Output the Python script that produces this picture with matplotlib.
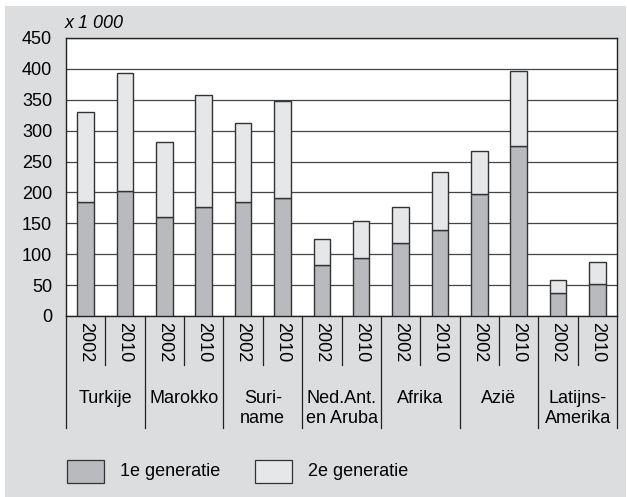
import matplotlib.pyplot as plt
import matplotlib.transforms as mtransforms
from matplotlib.lines import Line2D
from matplotlib.patches import Rectangle

plt.rcParams['font.family'] = ['Liberation Sans', 'DejaVu Sans']

# data (x 1 000)
groups = ['Turkije', 'Marokko', 'Suri-\nname', 'Ned.Ant.\nen Aruba', 'Afrika', 'Azië', 'Latijns-\nAmerika']
years = ['2002', '2010']
gen1 = [185, 202, 160, 177, 185, 191, 83, 94, 118, 139, 198, 275, 38, 52]
total = [330, 393, 281, 358, 312, 348, 125, 153, 177, 233, 267, 396, 59, 87]
gen2 = [t - g for t, g in zip(total, gen1)]

c1 = '#b9babd'
c2 = '#e6e7e9'
bg = '#dcdddf'
edge = '#333333'
fs = 13

fig = plt.figure(figsize=(6.27, 4.97), dpi=100)
fig.patch.set_facecolor('white')
fig.patches.append(Rectangle((5 / 627, 0), 621 / 627, 491 / 497, transform=fig.transFigure,
                             facecolor=bg, edgecolor='none', zorder=-10))

W, H = 627, 497
ax = fig.add_axes([66 / W, (H - 316) / H, 551 / W, (316 - 38) / H])
ax.set_facecolor('white')

x = list(range(len(gen1)))
ax.bar(x, gen1, width=0.42, color=c1, edgecolor=edge, linewidth=1, zorder=3)
ax.bar(x, gen2, bottom=gen1, width=0.42, color=c2, edgecolor=edge, linewidth=1, zorder=3)

ax.set_xlim(-0.5, len(gen1) - 0.5)
ax.set_ylim(0, 450)
ax.set_yticks(range(0, 451, 50))
ax.tick_params(axis='y', length=0, labelsize=fs, pad=10)
ax.set_xticks([])
ax.grid(axis='y', color='#444444', linewidth=0.9, zorder=0)
for s in ax.spines.values():
    s.set_color('#222222')
    s.set_linewidth(1)

fig.text(65 / W, (H - 23) / H, 'x 1 000', fontsize=fs, style='italic', va='center', ha='left')

# category axis below the plot
tr = mtransforms.blended_transform_factory(ax.transData, fig.transFigure)
for i in x:
    fig.text(i, (H - 322) / H, years[i % 2], rotation=-90, transform=tr,
             ha='center', va='top', fontsize=fs)
for i in range(len(groups)):
    left = 2 * i - 0.5
    fig.add_artist(Line2D([left, left], [(H - 316) / H, (H - 428) / H], transform=tr,
                          color='#222222', linewidth=0.9))
    mid = 2 * i + 0.5
    fig.add_artist(Line2D([mid, mid], [(H - 316) / H, (H - 365) / H], transform=tr,
                          color='#222222', linewidth=0.9))
    fig.text(2 * i + 0.5, (H - 390) / H, groups[i], transform=tr, ha='center', va='top',
             fontsize=fs, linespacing=1.2)
right = len(gen1) - 0.5
fig.add_artist(Line2D([right, right], [(H - 316) / H, (H - 428) / H], transform=tr,
                      color='#222222', linewidth=0.9))

# legend
fig.patches.append(Rectangle((67 / W, (H - 483) / H), 37 / W, 23 / H, transform=fig.transFigure,
                             facecolor=c1, edgecolor=edge, linewidth=0.9))
fig.text(120 / W, (H - 471) / H, '1e generatie', fontsize=fs, va='center')
fig.patches.append(Rectangle((255 / W, (H - 483) / H), 37 / W, 23 / H, transform=fig.transFigure,
                             facecolor=c2, edgecolor=edge, linewidth=0.9))
fig.text(308 / W, (H - 471) / H, '2e generatie', fontsize=fs, va='center')

fig.savefig('out.png', dpi=100)
